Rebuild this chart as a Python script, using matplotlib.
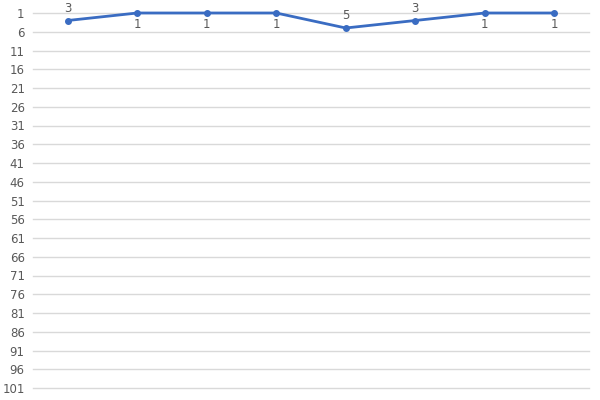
import matplotlib
matplotlib.use("Agg")
from matplotlib import pyplot as plt

categories = ["1", "2", "3", "4", "5", "6", "7", "8"]
ranks = [3, 1, 1, 1, 5, 3, 1, 1]
y_ticks = list(range(1, 102, 5))

line_color = "#3a6cc2"
text_color = "#595959"

fig = plt.figure(figsize=(6, 4), dpi=100)
ax = fig.add_axes([33 / 600, 12 / 400, 556 / 600, 375 / 400])

x = list(range(len(categories)))
ax.plot(x, ranks, color=line_color, linewidth=2, marker="o", markersize=4,
        zorder=3, clip_on=False)

# labels for the top row go below the point, the others above
for xi, v in zip(x, ranks):
    if v == 1:
        ax.annotate(str(v), (xi, v), xytext=(0, -3.5), textcoords="offset points",
                    ha="center", va="top", fontsize=8.5, color=text_color)
    else:
        ax.annotate(str(v), (xi, v), xytext=(0, 4), textcoords="offset points",
                    ha="center", va="bottom", fontsize=8.5, color=text_color)

ax.set_xlim(-0.5, len(categories) - 0.5)
ax.set_ylim(101, 1)
ax.set_yticks(y_ticks)
ax.set_xticks([])
ax.tick_params(axis="y", length=0, labelsize=8.5, labelcolor=text_color, pad=6)
ax.grid(axis="y", color="#d9d9d9", linewidth=1)
for gl in ax.get_ygridlines():
    gl.set_clip_on(False)
ax.set_axisbelow(True)
for s in ax.spines.values():
    s.set_visible(False)

fig.savefig("out.png", dpi=100)
